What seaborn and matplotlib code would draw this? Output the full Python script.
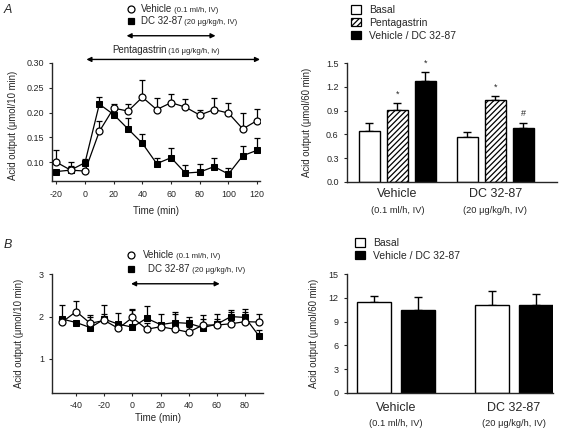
import numpy as np
import pandas as pd
import seaborn as sns
import matplotlib.pyplot as plt
import matplotlib.transforms as mtransforms
from matplotlib.lines import Line2D
from matplotlib.patches import Patch

# ---- panel A: time course, acid output (umol/10 min) ----
time_a = [-20, -10, 0, 10, 20, 30, 40, 50, 60, 70, 80, 90, 100, 110, 120]
veh_a = [0.100, 0.084, 0.082, 0.162, 0.209, 0.203, 0.231, 0.206, 0.220, 0.211, 0.195, 0.206, 0.199, 0.167, 0.184]
veh_a_sem = [0.025, 0.016, 0.004, 0.022, 0.009, 0.015, 0.034, 0.024, 0.018, 0.016, 0.010, 0.024, 0.021, 0.033, 0.023]
dc_a = [0.081, 0.084, 0.099, 0.217, 0.196, 0.167, 0.138, 0.097, 0.109, 0.078, 0.080, 0.091, 0.076, 0.113, 0.124]
dc_a_sem = [0.004, 0.009, 0.007, 0.015, 0.009, 0.022, 0.018, 0.011, 0.020, 0.017, 0.016, 0.018, 0.013, 0.019, 0.025]

# ---- panel B: time course ----
time_b = [-50, -40, -30, -20, -10, 0, 10, 20, 30, 40, 50, 60, 70, 80, 90]
veh_b = [1.87, 2.12, 1.84, 1.91, 1.72, 1.98, 1.70, 1.76, 1.70, 1.63, 1.80, 1.80, 1.83, 1.88, 1.87]
veh_b_sem = [0.08, 0.25, 0.20, 0.14, 0.13, 0.20, 0.15, 0.09, 0.35, 0.12, 0.15, 0.15, 0.27, 0.24, 0.19]
dc_b = [1.94, 1.86, 1.74, 1.94, 1.82, 1.75, 1.96, 1.81, 1.86, 1.84, 1.74, 1.82, 2.00, 1.98, 1.54]
dc_b_sem = [0.34, 0.04, 0.24, 0.33, 0.27, 0.40, 0.30, 0.25, 0.26, 0.16, 0.30, 0.24, 0.16, 0.20, 0.15]

# ---- bar charts (umol/60 min) ----
groups = ['Vehicle', 'DC 32-87']
group_notes = ['(0.1 ml/h, IV)', '(20 μg/kg/h, IV)']

conds_a = ['Basal', 'Pentagastrin', 'Vehicle / DC 32-87']
bar_a = [[0.64, 0.56], [0.91, 1.03], [1.27, 0.68]]
bar_a_sem = [[0.10, 0.07], [0.085, 0.06], [0.12, 0.07]]
marks_a = [['', ''], ['*', '*'], ['*', '#']]

conds_b = ['Basal', 'Vehicle / DC 32-87']
bar_b = [[11.5, 11.1], [10.5, 11.1]]
bar_b_sem = [[0.8, 1.8], [1.6, 1.4]]

sns.set_style("ticks")
plt.rcParams['font.family'] = ['Liberation Sans', 'DejaVu Sans']
plt.rcParams['axes.unicode_minus'] = False
plt.rcParams['axes.linewidth'] = 1.0
plt.rcParams['xtick.major.size'] = 2.5
plt.rcParams['ytick.major.size'] = 2.5
plt.rcParams['xtick.labelsize'] = 6.4
plt.rcParams['ytick.labelsize'] = 6.5
plt.rcParams['hatch.linewidth'] = 0.9

fig = plt.figure(figsize=(5.68, 4.33), dpi=100)
W, H = 568, 433


def px_axes(x0, y0, x1, y1):
    return fig.add_axes([x0 / W, 1 - y1 / H, (x1 - x0) / W, (y1 - y0) / H])


ax_al = px_axes(52, 63, 260, 181.5)
ax_ar = px_axes(347, 63.3, 557, 181.7)
ax_bl = px_axes(52.3, 274.3, 263.3, 392.7)
ax_br = px_axes(346.7, 274.3, 553, 392.7)


def time_course(ax, t, veh, veh_sem, dc, dc_sem):
    df = pd.DataFrame({'t': t, 'veh': veh, 'dc': dc})
    ax.errorbar(t, dc, yerr=[np.zeros(len(t)), dc_sem], fmt='none',
                ecolor='black', elinewidth=0.9, capsize=2.2, capthick=0.9, zorder=2)
    ax.errorbar(t, veh, yerr=[np.zeros(len(t)), veh_sem], fmt='none',
                ecolor='black', elinewidth=0.9, capsize=2.2, capthick=0.9, zorder=2)
    sns.lineplot(data=df, x='t', y='dc', ax=ax, color='black', lw=0.9,
                 marker='s', markersize=4.2, markerfacecolor='black',
                 markeredgecolor='black', zorder=3)
    sns.lineplot(data=df, x='t', y='veh', ax=ax, color='black', lw=0.9,
                 marker='o', markersize=5, markerfacecolor='white',
                 markeredgecolor='black', markeredgewidth=0.9, zorder=4)
    ax.set_xlabel('Time (min)', fontsize=7)
    ax.set_ylabel('Acid output (μmol/10 min)', fontsize=6.9)
    sns.despine(ax=ax)


time_course(ax_al, time_a, veh_a, veh_a_sem, dc_a, dc_a_sem)
ax_al.set_xlim(-23, 122)
ax_al.set_ylim(0.061, 0.30)
ax_al.set_xticks(np.arange(-20, 121, 20))
ax_al.set_yticks([0.10, 0.15, 0.20, 0.25, 0.30])
ax_al.set_yticklabels(['0.10', '0.15', '0.20', '0.25', '0.30'])
ax_al.xaxis.labelpad = 5
ax_al.yaxis.set_label_coords(-0.165, 0.47)

time_course(ax_bl, time_b, veh_b, veh_b_sem, dc_b, dc_b_sem)
ax_bl.set_xlim(-57, 93)
ax_bl.set_ylim(0.2, 3)
ax_bl.set_xticks(np.arange(-40, 81, 20))
ax_bl.set_yticks([1, 2, 3])
ax_bl.xaxis.labelpad = 2
ax_bl.yaxis.set_label_coords(-0.135, 0.5)

# treatment arrows
def arrow(ax, x0, x1, y):
    tr = mtransforms.blended_transform_factory(ax.transData, ax.transAxes)
    ax.annotate('', xy=(x0, y), xytext=(x1, y), xycoords=tr, textcoords=tr,
                annotation_clip=False,
                arrowprops=dict(arrowstyle='<|-|>', color='black', lw=1.0,
                                mutation_scale=7, shrinkA=0, shrinkB=0))


arrow(ax_al, 29, 91, 1.23)
arrow(ax_al, 1, 122, 1.03)
arrow(ax_bl, -1, 62, 0.92)

# Pentagastrin label
t1 = fig.text(112 / W, 1 - 50 / H, 'Pentagastrin', fontsize=7, va='center')
fig.canvas.draw()
ax_al.annotate(' (16 μg/kg/h, iv)', xy=(1, 0), xycoords=t1, va='bottom', fontsize=5.6)

# legends of time course panels
def line_legend(x, y_rows, texts_main, texts_sub, text_x):
    for (mk, fc), y, tm, ts, tx in zip([('o', 'white'), ('s', 'black')], y_rows,
                                       texts_main, texts_sub, text_x):
        fig.add_artist(Line2D([x / W], [1 - y / H], marker=mk, markersize=5 if mk == 'o' else 4.2,
                              markerfacecolor=fc, markeredgecolor='black',
                              markeredgewidth=0.9, linestyle='none'))
        t = fig.text(tx / W, 1 - y / H, tm, fontsize=7, va='center')
        fig.canvas.draw()
        fig.axes[0].annotate(' ' + ts, xy=(1, 0), xycoords=t, va='bottom', fontsize=5.6,
                             annotation_clip=False)


line_legend(130.5, [9.3, 20.7], ['Vehicle', 'DC 32-87'],
            ['(0.1 ml/h, IV)', '(20 μg/kg/h, IV)'], [141, 141])
line_legend(130.5, [255, 269.3], ['Vehicle', 'DC 32-87'],
            ['(0.1 ml/h, IV)', '(20 μg/kg/h, IV)'], [143, 148])

# panel letters
fig.text(4 / W, 1 - 10 / H, 'A', fontsize=9, style='italic', va='center')
fig.text(4 / W, 1 - 245 / H, 'B', fontsize=9, style='italic', va='center')


def bar_panel(ax, conds, vals, sems, colors, hatches, width, gap, note_y):
    rows = []
    for c, v in zip(conds, vals):
        for g, val in zip(groups, v):
            rows.append({'group': g, 'cond': c, 'value': val})
    df = pd.DataFrame(rows)
    sns.barplot(data=df, x='group', y='value', hue='cond', hue_order=conds,
                palette=colors, width=width, gap=gap, errorbar=None,
                edgecolor='black', linewidth=1.0, legend=False, ax=ax)
    for cont, h, s in zip(ax.containers, hatches, sems):
        for bar, e in zip(cont, s):
            bar.set_hatch(h)
            xc = bar.get_x() + bar.get_width() / 2
            ax.errorbar(xc, bar.get_height(), yerr=[[0], [e]], fmt='none',
                        ecolor='black', elinewidth=1.0, capsize=2.6, capthick=1.0,
                        zorder=0)
    ax.set_xlabel('')
    ax.set_ylabel('Acid output (μmol/60 min)', fontsize=6.9)
    ax.set_xticks([0, 1])
    ax.set_xticklabels([])
    ax.tick_params(axis='x', length=0)
    tr = mtransforms.blended_transform_factory(ax.transData, ax.transAxes)
    for i, (g, n) in enumerate(zip(groups, group_notes)):
        ax.text(i, note_y[0], g, transform=tr, ha='center', va='center', fontsize=9)
        ax.text(i, note_y[1], n, transform=tr, ha='center', va='center', fontsize=6.7)
    sns.despine(ax=ax)


bar_panel(ax_ar, conds_a, bar_a, bar_a_sem,
          ['white', 'white', 'black'], ['', '//////', ''], 0.857, 0.25, (-0.10, -0.245))
ax_ar.set_xlim(-0.515, 1.63)
ax_ar.set_ylim(0, 1.5)
ax_ar.set_yticks(np.arange(0, 1.51, 0.3))
ax_ar.set_yticklabels(['0.0', '0.3', '0.6', '0.9', '1.2', '1.5'])
ax_ar.yaxis.set_label_coords(-0.165, 0.5)
for cont, mk, s in zip(ax_ar.containers, marks_a, bar_a_sem):
    for bar, m, e in zip(cont, mk, s):
        if m:
            ax_ar.annotate(m, xy=(bar.get_x() + bar.get_width() / 2, bar.get_height() + e),
                           xytext=(0, 3), textcoords='offset points', ha='center',
                           va='bottom', fontsize=6.5)

bar_panel(ax_br, conds_b, bar_b, bar_b_sem,
          ['white', 'black'], ['', ''], 0.746, 0.228, (-0.13, -0.26))
ax_br.set_xlim(-0.418, 1.33)
ax_br.set_ylim(0, 15)
ax_br.set_yticks(np.arange(0, 16, 3))
ax_br.yaxis.set_label_coords(-0.135, 0.5)

# bar legends
hatch_a = ['', '//////', '']
face_a = ['white', 'white', 'black']
handles_a = [Patch(facecolor=f, edgecolor='black', hatch=h, lw=0.9)
             for f, h in zip(face_a, hatch_a)]
fig.legend(handles_a, conds_a, loc='upper left', bbox_to_anchor=(351 / W, 1 - 5 / H),
           frameon=False, fontsize=7.5, handlelength=1.0, handleheight=0.85,
           handletextpad=0.7, labelspacing=0.28, borderpad=0, borderaxespad=0)
handles_b = [Patch(facecolor=f, edgecolor='black', lw=0.9) for f in ['white', 'black']]
fig.legend(handles_b, conds_b, loc='upper left', bbox_to_anchor=(355 / W, 1 - 238 / H),
           frameon=False, fontsize=7.5, handlelength=1.0, handleheight=0.85,
           handletextpad=0.7, labelspacing=0.28, borderpad=0, borderaxespad=0)

fig.savefig('out.png', dpi=100)
